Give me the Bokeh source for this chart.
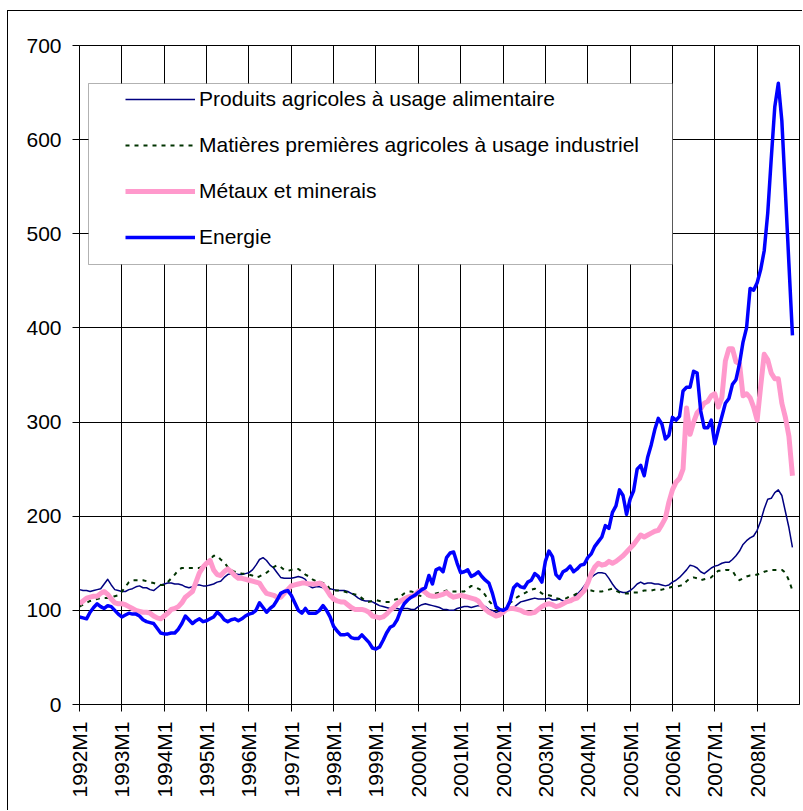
from bokeh.plotting import figure
from bokeh.models import (Range1d, FixedTicker, Legend, LegendItem, BoxAnnotation)
from bokeh.embed import file_html
from bokeh.resources import INLINE
import math

# ---------------- data (monthly, 1992M1 ...) ----------------
tick_labels = ["1992M1", "1993M1", "1994M1", "1995M1", "1996M1", "1997M1",
               "1998M1", "1999M1", "2000M1", "2001M1", "2002M1", "2003M1",
               "2004M1", "2005M1", "2006M1", "2007M1", "2008M1"]
y_ticks = [0, 100, 200, 300, 400, 500, 600, 700]

series_names = ["Produits agricoles à usage alimentaire",
                "Matières premières agricoles à usage industriel",
                "Métaux et minerais",
                "Energie"]

produits_alimentaires = [
    122, 121, 121, 120, 121, 122, 123, 128, 133, 127, 122, 121,
    120, 120, 122, 123, 125, 126, 124, 124, 122, 121, 124, 127,
    128, 129, 129, 128, 128, 127, 125, 124, 125, 127, 127, 126,
    126, 127, 128, 130, 131, 135, 138, 139, 139, 138, 138, 139,
    140, 143, 148, 154, 156, 153, 148, 145, 140, 135, 134, 134,
    134, 135, 136, 135, 133, 126, 124, 125, 125, 124, 124, 123,
    122, 121, 121, 121, 120, 118, 116, 113, 111, 110, 110, 109,
    107, 105, 104, 103, 102, 102, 102, 101, 102, 102, 101, 101,
    104, 106, 107, 106, 105, 104, 103, 101, 101, 100, 100, 102,
    103, 104, 104, 103, 104, 105, 104, 104, 101, 100, 98, 99,
    100, 100, 101, 103, 106, 109, 110, 111, 112, 113, 112, 112,
    112, 113, 111, 111, 112, 110, 108, 109, 113, 117, 121, 126,
    131, 135, 138, 140, 140, 139, 134, 128, 123, 120, 119, 119,
    121, 124, 128, 130, 128, 129, 129, 128, 128, 127, 126, 127,
    130, 132, 135, 139, 143, 148, 147, 145, 141, 139, 142, 145,
    147, 148, 150, 151, 151, 154, 158, 163, 170, 174, 177, 179,
    185, 195, 208, 218, 219, 225, 228, 222, 205, 188, 167]

matieres_industrielles = [
    104, 106, 108, 110, 111, 112, 113, 113, 113, 114, 115, 116,
    120, 125, 130, 132, 132, 132, 132, 131, 130, 129, 128, 127,
    127, 130, 134, 138, 143, 145, 145, 145, 145, 145, 145, 147,
    150, 154, 158, 158, 154, 151, 146, 143, 141, 140, 139, 139,
    138, 137, 135, 136, 138, 140, 143, 146, 148, 146, 143, 142,
    143, 144, 144, 141, 138, 136, 133, 131, 130, 129, 128, 122,
    121, 121, 121, 120, 119, 118, 117, 116, 113, 110, 109, 110,
    111, 110, 109, 109, 109, 111, 112, 115, 118, 120, 120, 119,
    116, 115, 116, 116, 117, 118, 119, 120, 121, 120, 120, 120,
    120, 120, 123, 126, 125, 123, 121, 116, 110, 106, 102, 100,
    100, 103, 108, 111, 114, 116, 118, 120, 122, 123, 121, 118,
    116, 116, 115, 113, 112, 112, 113, 115, 116, 118, 120, 121,
    121, 121, 120, 120, 120, 121, 122, 123, 121, 119, 118, 118,
    118, 119, 119, 120, 121, 121, 121, 122, 122, 122, 123, 124,
    125, 125, 126, 127, 131, 134, 135, 134, 132, 133, 134, 135,
    139, 142, 142, 143, 143, 142, 136, 132, 134, 136, 137, 137,
    138, 139, 141, 142, 143, 143, 143, 143, 140, 132, 121]

metaux_minerais = [
    107, 110, 113, 114, 115, 115, 118, 120, 117, 112, 108, 107,
    107, 106, 104, 102, 100, 99, 98, 98, 97, 94, 92, 91,
    94, 97, 101, 102, 104, 108, 114, 117, 120, 130, 140, 146,
    150, 153, 143, 138, 137, 141, 144, 141, 137, 134, 134, 133,
    132, 131, 130, 129, 123, 118, 117, 116, 114, 114, 118, 122,
    126, 127, 128, 129, 129, 128, 128, 128, 129, 127, 122, 116,
    112, 110, 109, 109, 106, 103, 101, 101, 101, 100, 98, 94,
    93, 92, 93, 96, 100, 103, 107, 110, 112, 114, 115, 116,
    120, 122, 119, 116, 115, 115, 116, 117, 119, 116, 114, 115,
    116, 115, 114, 113, 112, 110, 105, 101, 98, 96, 94, 95,
    98, 101, 102, 102, 101, 100, 98, 97, 97, 98, 101, 104,
    106, 107, 106, 104, 105, 107, 109, 110, 112, 113, 117, 121,
    129, 139, 146, 150, 148, 149, 152, 150, 152, 155, 158, 162,
    166, 170, 175, 180, 178, 180, 182, 184, 185, 191, 198, 215,
    228, 236, 240, 250, 315, 287, 300, 310, 314, 320, 322, 328,
    330, 316, 326, 365, 378, 378, 364, 362, 328, 330, 326, 316,
    302, 338, 372, 366, 352, 346, 346, 320, 305, 285, 243]

energie = [
    93, 92, 91, 98, 103, 107, 104, 102, 105, 104, 100, 96,
    93, 95, 97, 96, 96, 94, 90, 88, 87, 86, 81, 76,
    75, 75, 76, 76, 80, 86, 94, 90, 86, 89, 91, 88,
    89, 91, 93, 98, 95, 90, 88, 90, 91, 89, 91, 94,
    96, 97, 100, 108, 103, 98, 102, 105, 111, 118, 120, 121,
    116, 108, 100, 97, 102, 97, 97, 97, 100, 105, 100, 93,
    83, 78, 74, 74, 75, 71, 70, 70, 74, 70, 66, 60,
    59, 61, 68, 76, 82, 84, 90, 100, 107, 111, 114, 116,
    119, 122, 124, 137, 128, 143, 145, 141, 156, 161, 162, 150,
    140, 141, 143, 136, 138, 141, 136, 132, 129, 118, 104, 101,
    100, 102, 110, 124, 128, 125, 124, 130, 132, 139, 136, 130,
    152, 163, 157, 138, 134, 141, 143, 147, 141, 144, 148, 149,
    156, 160, 168, 173, 178, 190, 187, 204, 211, 228, 222, 202,
    218, 227, 250, 254, 243, 263, 276, 292, 304, 298, 282, 286,
    305, 302, 306, 333, 337, 337, 354, 352, 312, 294, 294, 302,
    277, 292, 306, 320, 325, 340, 345, 362, 385, 400, 442, 440,
    448, 462, 482, 522, 580, 635, 660, 620, 545, 468, 392]

# ---------------- figure ----------------
FONT = "Liberation Sans"
FONT_SIZE = "21px"
months_per_year = 12
n_months = len(tick_labels) * months_per_year

border_css = ("linear-gradient(#000, #000) 7px 10px / 1px 100% no-repeat, "
              "linear-gradient(#000, #000) 7px 10px / 100% 1px no-repeat, "
              "#ffffff")

p = figure(width=802, height=810, output_backend="svg", toolbar_location=None,
           x_range=Range1d(0, n_months), y_range=Range1d(0, 700),
           min_border_left=79, min_border_right=3, min_border_top=45,
           min_border_bottom=106,
           styles={"background": border_css})
p.background_fill_color = "white"
p.border_fill_color = None
p.outline_line_color = "black"
p.outline_line_width = 1

# axes
x_tick_pos = [k * months_per_year for k in range(len(tick_labels))]
p.xaxis.ticker = FixedTicker(ticks=x_tick_pos)
p.xaxis.major_label_overrides = {t: lab for t, lab in zip(x_tick_pos, tick_labels)}
p.xaxis.major_label_orientation = math.pi / 2
p.yaxis.ticker = FixedTicker(ticks=y_ticks)
for ax in (p.xaxis, p.yaxis):
    ax.axis_line_color = "black"
    ax.axis_line_width = 1
    ax.major_tick_line_color = "black"
    ax.major_tick_out = 7
    ax.major_tick_in = 0
    ax.minor_tick_line_color = None
    ax.major_label_text_font = FONT
    ax.major_label_text_font_size = FONT_SIZE
    ax.major_label_text_color = "black"
p.yaxis.major_label_standoff = 11
p.xaxis.major_label_standoff = 10

p.xgrid.ticker = FixedTicker(ticks=x_tick_pos)
p.xgrid.grid_line_color = "black"
p.xgrid.grid_line_width = 1
p.ygrid.grid_line_color = "black"
p.ygrid.grid_line_width = 1

# series
styles = [
    dict(line_color="#000080", line_width=1.5),
    dict(line_color="#003300", line_width=2, line_dash="4 5"),
    dict(line_color="#FF99CC", line_width=5),
    dict(line_color="#0000FF", line_width=3.5),
]
data = [produits_alimentaires, matieres_industrielles, metaux_minerais, energie]
renderers = []
for vals, st in zip(data, styles):
    r = p.line(list(range(len(vals))), vals, line_join="round", **st)
    renderers.append(r)

# legend frame (white box covering the grid)
legend_box = BoxAnnotation(left=88, right=672, top=83, bottom=264,
                           left_units="canvas", right_units="canvas",
                           top_units="canvas", bottom_units="canvas",
                           fill_color="white", fill_alpha=1.0,
                           line_color="black", line_width=1)
p.add_layout(legend_box)

legend = Legend(items=[LegendItem(label=nm, renderers=[r])
                       for nm, r in zip(series_names, renderers)],
                location=(46, 455), orientation="vertical",
                glyph_width=70, glyph_height=22, label_height=22,
                label_standoff=4, spacing=22, padding=0, margin=0,
                label_text_font=FONT, label_text_font_size=FONT_SIZE,
                label_text_color="black",
                border_line_alpha=0, background_fill_alpha=0)
p.add_layout(legend, "center")

open("out.html", "w").write(file_html(p, INLINE))
